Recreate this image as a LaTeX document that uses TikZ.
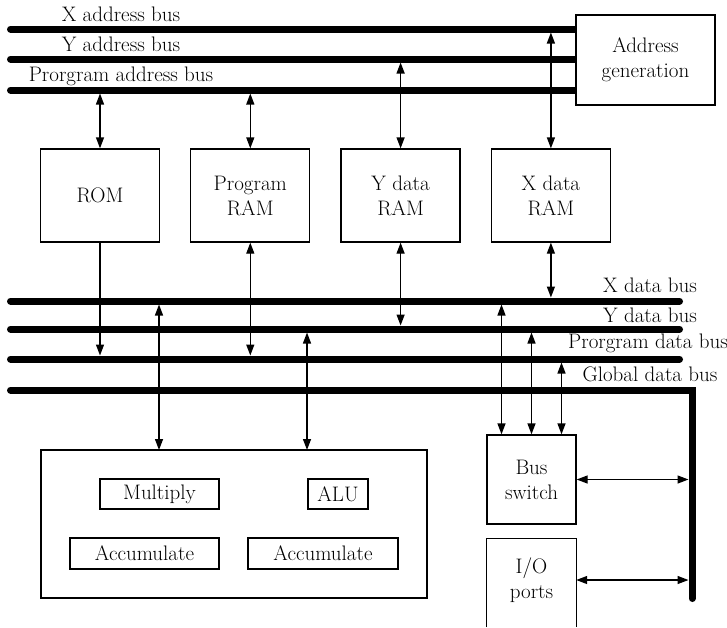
\documentclass[tikz,border=0pt]{standalone}
\usepackage{tikz}
\usetikzlibrary{arrows.meta, positioning, backgrounds}
\newcommand{\dspfont}{\fontsize{21}{25}\selectfont}
\tikzset{
  unitbox/.style={
    rectangle, draw, fill=white, line width=1.3pt,
    align=center, inner sep=0pt, font=\dspfont,
    minimum width=119pt, minimum height=93pt
  },
  subbox/.style={
    rectangle, draw, line width=1.3pt,
    inner sep=0pt, font=\dspfont,
    minimum height=30pt
  },
  busline/.style={line width=7pt, line cap=round, line join=miter},
  buslabel/.style={anchor=base, inner sep=0pt, font=\dspfont},
  biarrow/.style={{Triangle[length=11pt,width=8pt]}-{Triangle[length=11pt,width=8pt]}, line width=1.3pt},
  onearrow/.style={-{Triangle[length=11pt,width=8pt]}, line width=1.3pt}
}

\begin{document}
\begin{tikzpicture}[x=1pt, y=-1pt]
  \useasboundingbox (0,0) rectangle (727,627);

  % bus end points
  \coordinate (xab) at (10.5,29);
  \coordinate (yab) at (10.5,59);
  \coordinate (pab) at (10.5,90);
  \coordinate (xdb) at (10.5,301);
  \coordinate (ydb) at (10.5,329);
  \coordinate (pdb) at (10.5,359);
  \coordinate (gdb) at (10.5,390);
  \coordinate (gcorner) at (692,390);
  \coordinate (gend) at (692,598.5);

  % units
  \node[unitbox, minimum width=139pt, minimum height=90pt] (addr) at (645.5,60)
    {Address\\generation};
  \node[unitbox] (rom) at (100,195.5) {ROM};
  \node[unitbox, right=30pt of rom] (pram) {Program\\RAM};
  \node[unitbox, right=30pt of pram] (yram) {Y data\\RAM};
  \node[unitbox, right=30pt of yram] (xram) {X data\\RAM};

  \node[unitbox, minimum width=386pt, minimum height=148pt] (comp) at (234,524) {};
  \node[subbox, minimum width=119pt] (mult) at (159.5,494) {Multiply};
  \node[subbox, minimum width=60pt] (alu) at (338,494) {ALU};
  \node[subbox, minimum width=149pt, minimum height=31pt] (acc1) at (144.5,553.5) {Accumulate};
  \node[subbox, minimum width=150pt, minimum height=31pt] (acc2) at (323,553.5) {Accumulate};

  \node[unitbox, minimum width=89pt, minimum height=89pt] (busw) at (531.5,479.5)
    {Bus\\switch};
  \node[align=center, inner sep=0pt, font=\dspfont,
        minimum width=89pt, minimum height=82pt] (io) at (531.5,580) {I/O\\ports};
  \draw[line width=1.3pt] ([yshift=-6pt]io.south west) -- (io.north west)
    -- (io.north east) -- ([yshift=-6pt]io.south east);

  % buses
  \begin{scope}[on background layer]
    \foreach \bus in {xab, yab, pab}
      \draw[busline] (\bus) -- (\bus -| addr.west);
    \foreach \bus in {xdb, ydb, pdb}
      \draw[busline] (\bus) -- +(669,0);
    \draw[busline] (gdb) -- (gcorner) -- (gend);
  \end{scope}

  \node[buslabel] (xabl) at (121,21) {X address bus};
  \node[buslabel] (yabl) at (121,51) {Y address bus};
  \node[buslabel] (pabl) at (121,81) {Prorgram address bus};
  \node[buslabel] (xdbl) at (650,292) {X data bus};
  \node[buslabel] (ydbl) at (650,322) {Y data bus};
  \node[buslabel] (pdbl) at (648,348) {Prorgram data bus};
  \node[buslabel] (gdbl) at (650,381) {Global data bus};

  % memories to address buses
  \foreach \unit/\bus in {rom/pab, pram/pab, yram/yab, xram/xab}
    \draw[biarrow, shorten >=3.5pt] (\unit.north) -- (\unit.north |- \bus);

  % memories to data buses
  \draw[onearrow, shorten >=3.5pt] (rom.south) -- (rom.south |- pdb);
  \foreach \unit/\bus in {pram/pdb, yram/ydb, xram/xdb}
    \draw[biarrow, shorten >=3.5pt] (\unit.south) -- (\unit.south |- \bus);

  % data buses to compute unit
  \coordinate (cin1) at (159,450);
  \coordinate (cin2) at (307,450);
  \draw[biarrow, shorten <=3.5pt] (cin1 |- xdb) -- (cin1);
  \draw[biarrow, shorten <=3.5pt] (cin2 |- ydb) -- (cin2);

  % data buses to bus switch
  \foreach \dx/\bus [count=\i] in {-30/xdb, 0/ydb, 30/pdb}{
    \coordinate (swin\i) at ([xshift=\dx pt]busw.north);
    \draw[biarrow, shorten <=3.5pt] (swin\i |- \bus) -- (swin\i);
  }

  % global data bus links
  \draw[biarrow, shorten >=3.5pt] (busw.east) -- (busw.east -| gcorner);
  \draw[biarrow, shorten >=3.5pt] (io.east) -- (io.east -| gcorner);

\end{tikzpicture}
\end{document}
